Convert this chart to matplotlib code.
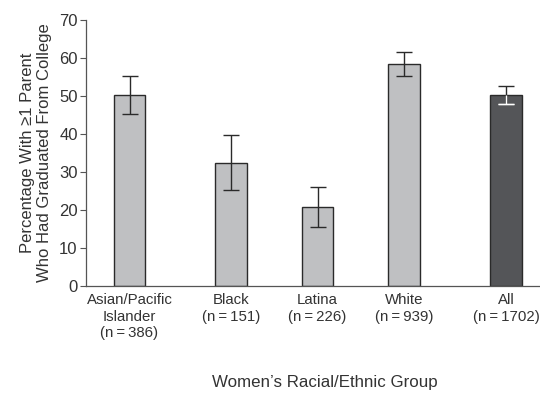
import matplotlib
matplotlib.use("Agg")
import matplotlib.pyplot as plt

plt.rcParams['font.family'] = ['Liberation Sans', 'DejaVu Sans']

groups = ["Asian/Pacific\nIslander\n(n\u2009=\u2009386)", "Black\n(n\u2009=\u2009151)",
          "Latina\n(n\u2009=\u2009226)", "White\n(n\u2009=\u2009939)", "All\n(n\u2009=\u20091702)"]
values = [50.2, 32.5, 20.8, 58.5, 50.3]
errors = [5.0, 7.2, 5.3, 3.2, 2.4]
positions = [0, 1.18, 2.18, 3.18, 4.37]
bar_colors = ["#bfc0c2", "#bfc0c2", "#bfc0c2", "#bfc0c2", "#545558"]

text_color = "#333333"
fig = plt.figure(figsize=(5.4, 3.94), dpi=100)
ax = fig.add_axes([86 / 540, 1 - 286 / 394, (540 - 86) / 540, (286 - 20) / 394])

ax.bar(positions, values, width=0.37, color=bar_colors, edgecolor="#2a2a2a",
       linewidth=1.0, zorder=2)
ax.errorbar(positions, values, yerr=errors, fmt="none", ecolor="#2a2a2a",
            elinewidth=1.0, capsize=6, capthick=1.0, zorder=3)
# lower half of the error bar on the dark bar is drawn in white
ax.errorbar([positions[-1]], [values[-1] - errors[-1] / 2], yerr=[[errors[-1] / 2], [errors[-1] / 2]],
            fmt="none", ecolor="white", elinewidth=1.0, capsize=0, zorder=4)
ax.errorbar([positions[-1]], [values[-1] - errors[-1]], yerr=[[0], [0]],
            fmt="none", ecolor="white", elinewidth=1.0, capsize=6, capthick=1.0, zorder=4)

ax.set_xlim(-0.505, 4.76)
ax.set_ylim(0, 70)
ax.set_yticks(range(0, 71, 10))
ax.set_xticks(positions)
ax.set_xticklabels(groups, fontsize=10.8, color=text_color, linespacing=1.25, va="top")
ax.tick_params(axis="x", length=0, pad=5)
ax.tick_params(axis="y", length=4, width=0.8, color="#555555", labelsize=12, labelcolor=text_color, pad=2)

for s in ["top", "right"]:
    ax.spines[s].set_visible(False)
for s in ["left", "bottom"]:
    ax.spines[s].set_color("#555555")
    ax.spines[s].set_linewidth(0.9)

ax.set_ylabel("Percentage With \u22651 Parent\nWho Had Graduated From College",
              fontsize=12, color=text_color, linespacing=1.15, labelpad=5)
fig.text(324.5 / 540, 1 - 383 / 394, "Women\u2019s Racial/Ethnic Group", fontsize=12.2,
         color=text_color, ha="center", va="center")

fig.savefig("out.png", dpi=100)
